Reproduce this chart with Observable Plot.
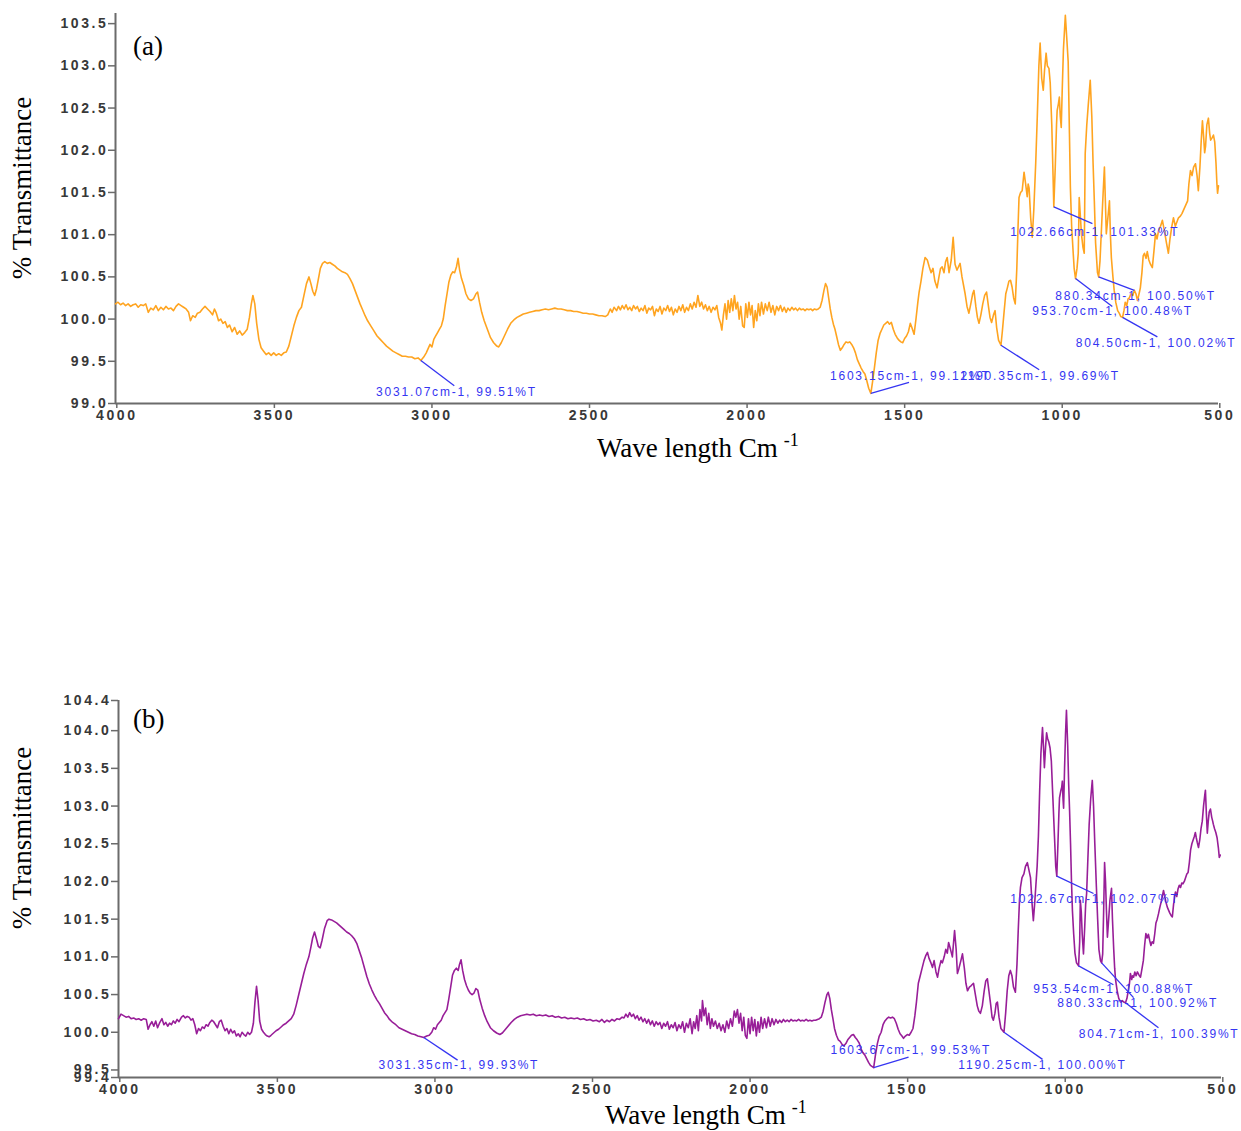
<!DOCTYPE html>
<html>
<head>
<meta charset="utf-8">
<script src="https://cdn.jsdelivr.net/npm/d3@7"></script>
<script src="https://cdn.jsdelivr.net/npm/@observablehq/plot@0.6"></script>
<style>
  html, body { margin: 0; padding: 0; background: #fff; }
  #figure { position: relative; width: 1241px; height: 1131px; overflow: hidden; }
  .panel { position: absolute; left: 0; }
  .panel svg { overflow: visible; }
  .panel g[aria-label="x-axis tick label"] text,
  .panel g[aria-label="y-axis tick label"] text { letter-spacing: 2.6px; font-weight: bold; fill: #383838; }
  .ytitle, .xtitle, .tag {
    position: absolute; font-family: "Liberation Serif", "Times New Roman", serif;
    color: #000; white-space: nowrap; line-height: 1;
  }
  .ytitle { font-size: 27px; transform: translate(-50%, -50%) rotate(-90deg); }
  .xtitle { font-size: 27px; }
  .xtitle sup { font-size: 18px; position: relative; top: -4px; margin-left: 6px; vertical-align: top; }
  .tag { font-size: 27px; }
</style>
</head>
<body>
<div id="figure"></div>
<script>
// FTIR spectra: wavenumber (cm-1) vs % transmittance
const xTicks = [4000, 3500, 3000, 2500, 2000, 1500, 1000, 500];
const yTicksA = [99.0, 99.5, 100.0, 100.5, 101.0, 101.5, 102.0, 102.5, 103.0, 103.5];
const yTicksB = [99.4, 99.5, 100.0, 100.5, 101.0, 101.5, 102.0, 102.5, 103.0, 103.5, 104.0, 104.4];

// Sample (a) spectrum, [wavenumber, %T]
const spectrumA = [
[4000,100.18],[3992,100.2],[3984,100.17],[3976,100.19],[3968,100.16],[3960,100.18],[3952,100.15],[3944,100.17],[3936,100.18],[3928,100.14],[3920,100.17],[3912,100.16],[3904,100.18],[3896,100.08],[3888,100.13],[3880,100.11],[3872,100.16],[3864,100.1],[3856,100.14],[3848,100.11],[3840,100.15],[3832,100.12],[3824,100.13],[3816,100.1],[3808,100.15],[3800,100.18],[3792,100.16],[3784,100.14],[3776,100.12],[3768,100.08],[3762,99.98],[3755,100.04],[3747,100.02],[3740,100.07],[3732,100.08],[3724,100.12],[3716,100.15],[3708,100.12],[3700,100.09],[3692,100.05],[3686,100.12],[3680,100.07],[3673,99.98],[3666,100.0],[3659,99.95],[3652,99.97],[3645,99.9],[3638,99.93],[3630,99.85],[3622,99.9],[3614,99.82],[3606,99.86],[3598,99.81],[3590,99.84],[3582,99.88],[3575,100.02],[3569,100.18],[3564,100.28],[3558,100.18],[3552,99.95],[3545,99.76],[3538,99.66],[3530,99.62],[3522,99.58],[3514,99.6],[3506,99.57],[3498,99.6],[3490,99.57],[3482,99.59],[3474,99.57],[3466,99.6],[3458,99.61],[3450,99.68],[3442,99.8],[3434,99.92],[3426,100.02],[3418,100.1],[3410,100.14],[3402,100.28],[3394,100.42],[3386,100.5],[3380,100.42],[3374,100.33],[3368,100.28],[3362,100.36],[3356,100.48],[3350,100.6],[3343,100.66],[3336,100.68],[3328,100.66],[3320,100.67],[3312,100.65],[3304,100.63],[3296,100.6],[3288,100.58],[3280,100.56],[3272,100.55],[3264,100.53],[3256,100.48],[3248,100.42],[3240,100.34],[3232,100.26],[3224,100.18],[3216,100.11],[3208,100.04],[3200,99.98],[3190,99.92],[3180,99.86],[3170,99.8],[3160,99.76],[3150,99.72],[3140,99.68],[3130,99.65],[3120,99.62],[3110,99.6],[3100,99.58],[3090,99.56],[3080,99.56],[3070,99.55],[3060,99.55],[3050,99.53],[3040,99.54],[3031.07,99.51],[3022,99.55],[3014,99.6],[3008,99.65],[3002,99.7],[2996,99.67],[2990,99.76],[2984,99.8],[2978,99.84],[2972,99.88],[2966,99.92],[2960,100.0],[2954,100.16],[2948,100.3],[2942,100.44],[2936,100.52],[2930,100.56],[2924,100.55],[2918,100.62],[2913,100.72],[2908,100.58],[2902,100.48],[2895,100.4],[2888,100.3],[2880,100.24],[2872,100.22],[2864,100.24],[2856,100.3],[2851,100.32],[2845,100.2],[2838,100.08],[2830,99.98],[2820,99.88],[2810,99.78],[2800,99.72],[2790,99.68],[2784,99.67],[2776,99.72],[2766,99.8],[2756,99.88],[2746,99.95],[2736,99.99],[2726,100.02],[2716,100.04],[2706,100.06],[2696,100.07],[2686,100.08],[2676,100.09],[2666,100.1],[2656,100.1],[2646,100.11],[2636,100.12],[2626,100.11],[2616,100.12],[2606,100.13],[2596,100.12],[2586,100.12],[2576,100.11],[2566,100.1],[2556,100.1],[2546,100.09],[2536,100.09],[2526,100.08],[2516,100.07],[2506,100.07],[2496,100.06],[2486,100.06],[2476,100.05],[2466,100.04],[2456,100.04],[2446,100.03],[2438,100.05],[2430,100.12],[2424,100.08],[2418,100.14],[2410,100.1],
[2404,100.15],[2398,100.11],[2392,100.16],[2386,100.12],[2380,100.17],[2374,100.11],[2368,100.14],[2362,100.1],[2356,100.16],[2350,100.12],[2344,100.15],[2338,100.09],[2332,100.13],[2326,100.1],[2320,100.16],[2314,100.07],[2308,100.13],[2302,100.11],[2296,100.15],[2290,100.04],[2284,100.12],[2278,100.09],[2272,100.15],[2266,100.06],[2260,100.13],[2254,100.1],[2248,100.16],[2242,100.09],[2236,100.14],[2230,100.05],[2224,100.12],[2218,100.08],[2212,100.15],[2206,100.1],[2200,100.17],[2194,100.08],[2188,100.14],[2182,100.1],[2176,100.18],[2170,100.12],[2164,100.2],[2158,100.14],[2152,100.28],[2146,100.15],[2140,100.2],[2134,100.12],[2128,100.17],[2122,100.1],[2116,100.15],[2110,100.08],[2104,100.14],[2098,100.11],[2092,100.16],[2086,100.02],[2080,99.95],[2076,99.87],[2071,100.05],[2066,100.18],[2061,100.0],[2056,100.22],[2051,100.08],[2046,100.24],[2041,100.1],[2036,100.28],[2031,100.12],[2026,100.2],[2021,100.0],[2016,100.15],[2010,99.92],[2005,99.9],[2000,100.18],[1995,100.02],[1990,100.2],[1985,100.05],[1980,100.16],[1975,99.9],[1970,100.1],[1965,99.98],[1960,100.18],[1955,100.04],[1950,100.2],[1944,100.06],[1938,100.18],[1932,100.1],[1926,100.2],[1920,100.08],[1914,100.16],[1908,100.05],[1902,100.15],[1896,100.1],[1890,100.16],[1884,100.09],[1878,100.14],[1872,100.08],[1866,100.13],[1860,100.1],[1854,100.14],[1848,100.11],[1842,100.13],[1836,100.1],[1830,100.13],[1824,100.11],[1818,100.12],[1812,100.1],[1806,100.12],[1800,100.11],[1794,100.12],[1788,100.1],[1782,100.12],[1776,100.11],[1770,100.12],[1764,100.14],
[1758,100.22],[1752,100.34],[1747,100.42],[1742,100.38],[1737,100.25],[1732,100.12],[1727,100.02],[1722,99.94],[1717,99.88],[1712,99.8],[1706,99.7],[1700,99.63],[1694,99.66],[1688,99.7],[1682,99.73],[1676,99.72],[1670,99.73],[1664,99.7],[1658,99.66],[1652,99.6],[1646,99.52],[1640,99.47],[1634,99.42],[1628,99.38],[1622,99.35],[1616,99.27],[1610,99.18],[1603.15,99.12],[1598,99.25],[1592,99.42],[1586,99.6],[1580,99.75],[1574,99.83],[1568,99.88],[1562,99.93],[1556,99.95],[1550,99.97],[1544,99.94],[1538,99.96],[1532,99.88],[1526,99.82],[1520,99.78],[1514,99.75],[1508,99.73],[1502,99.72],[1496,99.77],[1490,99.8],[1484,99.85],[1478,99.95],[1473,99.9],[1466,99.82],[1460,100.0],[1454,100.2],[1450,100.32],[1444,100.45],[1438,100.6],[1431,100.73],[1424,100.7],[1418,100.62],[1412,100.55],[1406,100.6],[1400,100.45],[1393,100.37],[1387,100.5],[1382,100.6],[1377,100.62],[1371,100.55],[1366,100.68],[1361,100.73],[1355,100.55],[1348,100.7],[1342,100.97],[1336,100.65],[1330,100.58],[1325,100.62],[1320,100.66],[1314,100.5],[1308,100.38],[1304,100.3],[1298,100.15],[1292,100.07],[1286,100.18],[1280,100.3],[1276,100.34],[1270,100.15],[1265,100.02],[1260,99.95],[1254,100.05],[1248,100.18],[1242,100.28],[1236,100.32],[1230,100.15],[1225,100.02],[1220,99.96],[1214,100.05],[1209,100.1],[1204,99.9],[1198,99.75],[1190.35,99.69],[1186,99.85],[1180,100.1],[1175,100.3],[1170,100.37],[1165,100.45],[1160,100.46],[1155,100.38],[1150,100.25],[1145,100.18],[1140,100.6],[1136,101.1],[1133,101.44],[1128,101.5],[1123,101.52],[1117,101.74],[1112,101.6],[1107,101.45],[1104,101.6],[1101,101.55],[1096,101.2],[1091,100.97],[1086,101.3],[1080,101.85],[1075,102.4],[1070,103.0],[1066,103.27],[1061,102.85],[1056,102.71],[1052,102.95],[1047,103.15],[1043,103.0],[1038,102.97],[1034,102.8],[1029,102.3],[1025,101.7],[1022.66,101.33],[1018,101.8],[1014,102.3],[1012,102.47],[1008,102.55],[1005,102.63],[1002,102.4],[999,102.27],[996,102.7],[992,103.2],[986,103.6],[981,103.3],[977,103.05],[973,102.2],[970,101.56],[966,101.1],[961,100.78],[958,100.6],[953.7,100.48],[949,100.6],[945,100.78],[942,101.44],[938,101.2],[935,101.01],[930,100.85],[926,100.78],[923,101.96],[918,102.3],[913,102.55],[907,102.83],[902,102.4],[898,101.85],[894,101.4],[890,100.9],[884,100.55],[880.34,100.5],[876,100.69],[871,101.1],[866,101.5],[862,101.8],[859,101.4],[856,101.01],[851,101.2],[846,101.4],[843,101.0],[840,100.73],[835,100.5],[831,100.34],[826,100.2],[820,100.1],[815,100.07],[810,100.03],[804.5,100.02],[800,100.1],[796,100.2],[791,100.16],[787,100.24],[783,100.25],[778,100.3],[772,100.28],[767,100.34],[762,100.3],[757,100.22],[752,100.3],[748,100.37],[743,100.55],[739,100.75],[735,100.78],[730,100.72],[726,100.8],[721,100.7],[716,100.65],[710,100.61],[705,100.8],[700,101.01],[695,100.95],[690,101.05],[684,101.1],[678,101.17],[672,101.05],[665,100.9],[659,100.78],[654,100.95],[648,101.1],[643,101.2],[637,101.1],[632,101.15],[627,101.2],[621,101.22],[616,101.25],[610,101.3],[604,101.35],[598,101.4],[594,101.6],[589,101.76],[584,101.7],[579,101.8],[573,101.84],[568,101.7],[564,101.52],[559,101.8],[555,102.1],[551,102.35],[547,102.15],[544,101.97],[541,102.05],[537,102.3],[532,102.38],[528,102.2],[525,102.12],[520,102.15],[516,102.18],[512,102.1],[508,101.85],[505,101.6],[503,101.49],[500,101.58]
];

// Sample (b) spectrum, [wavenumber, %T]
const spectrumB = [
[4000,100.18],[3992,100.24],[3984,100.22],[3976,100.2],[3968,100.21],[3960,100.18],[3952,100.19],[3944,100.17],[3936,100.18],[3928,100.16],[3920,100.18],[3912,100.17],[3906,100.04],[3900,100.1],[3894,100.14],[3888,100.08],[3882,100.15],[3876,100.06],[3870,100.12],[3862,100.18],[3856,100.1],[3850,100.13],[3844,100.08],[3838,100.12],[3832,100.1],[3826,100.15],[3820,100.12],[3814,100.17],[3808,100.14],[3800,100.2],[3794,100.22],[3788,100.19],[3782,100.21],[3776,100.2],[3770,100.16],[3764,100.18],[3758,100.1],[3752,99.98],[3746,100.05],[3740,100.02],[3734,100.07],[3728,100.05],[3722,100.1],[3716,100.08],[3710,100.13],[3704,100.16],[3698,100.14],[3692,100.1],[3686,100.06],[3680,100.14],[3674,100.16],[3668,100.08],[3662,100.02],[3656,100.05],[3650,99.98],[3644,100.04],[3638,99.99],[3632,100.02],[3626,99.95],[3620,99.98],[3614,99.94],[3608,100.0],[3602,99.97],[3596,99.95],[3590,100.0],[3584,99.97],[3578,100.0],[3572,100.12],[3567,100.4],[3562,100.61],[3557,100.42],[3552,100.15],[3546,100.04],[3540,100.0],[3534,99.97],[3528,99.95],[3522,99.94],[3516,99.96],[3508,99.99],[3500,100.02],[3492,100.04],[3484,100.07],[3476,100.1],[3468,100.12],[3460,100.15],[3452,100.18],[3444,100.24],[3436,100.36],[3428,100.5],[3420,100.64],[3412,100.78],[3404,100.9],[3396,101.0],[3390,101.12],[3384,101.25],[3378,101.33],[3372,101.24],[3366,101.14],[3360,101.12],[3354,101.22],[3346,101.38],[3338,101.48],[3332,101.5],[3324,101.49],[3316,101.47],[3308,101.45],[3300,101.42],[3292,101.39],[3284,101.36],[3276,101.33],[3268,101.31],[3260,101.28],[3252,101.24],[3244,101.18],[3236,101.08],[3228,100.98],[3220,100.86],[3212,100.74],[3204,100.64],[3196,100.56],[3188,100.49],[3180,100.43],[3172,100.38],[3164,100.32],[3156,100.26],[3148,100.22],[3140,100.17],[3130,100.13],[3120,100.1],[3110,100.06],[3100,100.04],[3090,100.02],[3080,100.0],[3070,99.98],[3060,99.97],[3050,99.95],[3040,99.94],[3031.35,99.93],[3022,99.95],[3014,99.96],[3006,100.0],[3000,100.06],[2994,100.04],[2988,100.1],[2982,100.13],[2976,100.16],[2970,100.22],[2964,100.26],[2958,100.3],[2952,100.44],[2946,100.6],[2940,100.76],[2934,100.82],[2928,100.85],[2922,100.82],[2918,100.9],[2913,100.96],[2908,100.82],[2902,100.7],[2896,100.62],[2890,100.56],[2884,100.52],[2878,100.5],[2872,100.52],[2866,100.58],[2860,100.56],[2854,100.44],[2846,100.32],[2838,100.22],[2830,100.14],[2820,100.06],[2810,100.02],[2800,99.99],[2790,99.97],[2782,99.99],[2774,100.03],[2764,100.08],[2754,100.13],[2744,100.17],[2734,100.2],[2724,100.22],[2714,100.23],[2704,100.24],[2694,100.23],[2684,100.24],[2674,100.22],[2664,100.23],[2654,100.22],[2644,100.23],[2634,100.21],[2624,100.22],[2614,100.2],[2604,100.21],[2594,100.19],[2584,100.2],[2574,100.18],[2564,100.19],[2554,100.18],[2544,100.19],[2534,100.17],[2524,100.18],[2514,100.16],[2504,100.17],[2494,100.15],[2484,100.16],[2474,100.14],[2466,100.17],[2458,100.13],[2450,100.16],[2442,100.14],[2434,100.17],[2426,100.15],[2418,100.18],[2410,100.17],[2402,100.2],[2396,100.19],[2390,100.24],[2384,100.2],[2378,100.26],[2372,100.21],[2366,100.24],[2360,100.18],[2354,100.22],[2348,100.16],[2342,100.2],[2336,100.14],[2330,100.18],[2324,100.12],[2318,100.17],[2312,100.1],[2306,100.15],[2300,100.08],[2294,100.14],[2288,100.1],[2282,100.13],[2276,100.05],[2270,100.12],[2264,100.08],[2258,100.14],[2252,100.04],[2246,100.1],[2240,100.06],[2234,100.13],[2228,100.02],[2222,100.1],[2216,100.05],[2210,100.14],[2204,100.0],[2198,100.12],[2192,100.06],[2186,100.18],[2180,99.98],[2175,100.14],[2170,100.05],[2165,100.22],[2160,100.02],[2155,100.3],[2150,100.15],[2147,100.42],[2142,100.22],[2137,100.32],[2132,100.1],[2127,100.25],[2122,100.05],[2117,100.18],[2112,100.08],[2106,100.15],[2100,100.05],[2094,100.12],[2088,100.02],[2082,100.1],[2076,100.0],[2070,100.15],[2064,100.05],[2058,100.18],[2052,100.08],[2046,100.28],[2041,100.2],[2036,100.3],[2031,100.12],[2026,100.25],[2021,100.02],[2016,100.2],[2011,99.96],[2006,99.92],[2001,100.18],[1996,99.98],[1991,100.2],[1986,100.02],[1981,100.17],[1976,99.95],[1971,100.14],[1966,100.0],[1961,100.2],[1956,100.05],[1950,100.18],[1944,100.06],[1938,100.2],[1932,100.08],[1926,100.18],[1920,100.1],[1914,100.17],[1908,100.12],[1902,100.16],[1896,100.13],[1890,100.17],[1884,100.14],[1878,100.16],[1872,100.14],[1866,100.17],[1860,100.15],[1854,100.16],[1848,100.15],[1842,100.17],[1836,100.15],[1830,100.16],[1824,100.15],[1818,100.17],[1812,100.15],[1806,100.16],[1800,100.15],[1794,100.16],[1788,100.16],[1782,100.17],[1776,100.18],[1770,100.2],[1764,100.28],[1758,100.4],[1752,100.5],[1748,100.53],[1743,100.45],[1738,100.3],[1733,100.18],[1728,100.05],[1722,99.96],[1716,99.9],[1710,99.88],[1704,99.84],[1698,99.82],[1692,99.85],[1686,99.9],[1680,99.93],[1674,99.96],[1668,99.97],[1662,99.93],[1656,99.9],[1650,99.86],[1644,99.78],[1638,99.73],[1632,99.7],[1626,99.65],[1620,99.6],[1614,99.56],[1603.67,99.53],[1598,99.7],[1592,99.85],[1586,99.95],[1580,100.0],[1574,100.1],[1568,100.15],[1562,100.18],[1556,100.2],[1550,100.19],[1544,100.2],[1538,100.18],[1532,100.12],[1526,100.04],[1520,99.98],[1514,99.95],[1509,99.92],[1503,99.95],[1497,99.97],[1491,99.96],[1485,100.0],[1479,100.05],[1473,100.22],[1468,100.4],[1462,100.65],[1456,100.75],[1450,100.85],[1444,100.95],[1438,101.02],[1433,101.06],[1428,100.98],[1422,100.92],[1417,100.86],[1412,100.95],[1406,100.8],[1401,100.73],[1396,100.85],[1390,100.95],[1386,100.92],[1380,101.0],[1375,101.1],[1370,101.05],[1366,101.19],[1360,101.1],[1354,101.0],[1350,101.2],[1347,101.35],[1342,101.1],[1338,100.78],[1333,100.85],[1327,100.95],[1322,101.04],[1316,100.85],[1311,100.65],[1306,100.55],[1300,100.6],[1294,100.62],[1287,100.65],[1281,100.5],[1275,100.35],[1270,100.28],[1265,100.25],[1259,100.35],[1253,100.55],[1248,100.68],[1243,100.71],[1238,100.55],[1232,100.35],[1228,100.2],[1224,100.16],[1219,100.25],[1215,100.38],[1211,100.4],[1206,100.2],[1200,100.05],[1190.25,100.0],[1185,100.25],[1180,100.55],[1175,100.75],[1170,100.82],[1165,100.75],[1160,100.6],[1154,100.53],[1149,100.9],[1145,101.35],[1141,101.75],[1138,101.92],[1133,102.05],[1127,102.1],[1122,102.2],[1116,102.25],[1111,102.15],[1106,102.05],[1101,101.7],[1097,101.48],[1093,101.7],[1089,101.95],[1085,102.2],[1081,102.6],[1077,103.2],[1073,103.7],[1068,104.04],[1065,103.8],[1062,103.51],[1058,103.8],[1055,103.97],[1052,103.9],[1048,103.85],[1044,103.77],[1040,103.6],[1035,103.1],[1030,102.6],[1026,102.2],[1022.67,102.07],[1019,102.5],[1016,102.9],[1014,103.11],[1010,103.2],[1007,103.25],[1005,103.33],[1003,103.1],[1001,102.97],[998,103.5],[995,103.95],[992,104.27],[988,103.8],[985,103.3],[982,102.93],[979,102.5],[976,102.0],[973,101.61],[969,101.3],[965,101.05],[960,100.92],[953.54,100.88],[950,101.2],[948,101.75],[945,101.6],[942,101.3],[938,101.04],[934,101.4],[931,101.7],[928,101.84],[924,102.3],[920,102.75],[915,103.1],[910,103.34],[906,103.0],[902,102.5],[897,101.93],[893,101.5],[889,101.1],[884,100.95],[880.33,100.92],[877,101.04],[874,101.6],[871,102.25],[868,102.0],[865,101.6],[862,101.26],[858,101.5],[854,101.75],[849,101.91],[846,101.5],[842,101.1],[839,100.85],[836,100.69],[831,100.55],[826,100.45],[820,100.4],[815,100.42],[810,100.4],[804.71,100.39],[800,100.45],[796,100.55],[792,100.65],[789,100.78],[785,100.7],[782,100.75],[779,100.73],[775,100.8],[771,100.75],[767,100.8],[762,100.76],[757,100.73],[752,100.85],[748,100.95],[744,101.15],[740,101.31],[736,101.25],[732,101.3],[728,101.22],[724,101.15],[720,101.2],[716,101.18],[712,101.3],[708,101.45],[704,101.5],[700,101.57],[696,101.65],[692,101.72],[688,101.8],[684,101.88],[680,101.8],[676,101.72],[672,101.66],[668,101.62],[664,101.58],[660,101.55],[656,101.53],[652,101.7],[648,101.82],[646,101.86],[642,101.8],[638,101.9],[634,101.95],[630,101.92],[626,101.98],[622,101.97],[618,102.0],[614,102.05],[610,102.1],[606,102.12],[602,102.25],[598,102.42],[594,102.5],[590,102.55],[586,102.6],[583,102.65],[580,102.58],[577,102.52],[573,102.45],[569,102.55],[565,102.7],[561,102.8],[557,103.0],[553,103.15],[551,103.21],[548,102.9],[545,102.64],[542,102.8],[539,102.92],[535,102.96],[531,102.85],[528,102.8],[526,102.76],[522,102.7],[518,102.65],[514,102.58],[510,102.45],[507,102.32],[504,102.35]
];

// Picked peaks: [wavenumber, %T]
const peaksA = [[3031.07, 99.51], [1603.15, 99.12], [1190.35, 99.69], [1022.66, 101.33], [880.34, 100.50], [953.70, 100.48], [804.50, 100.02]];
const peaksB = [[3031.35, 99.93], [1603.67, 99.53], [1190.25, 100.00], [1022.67, 102.07], [953.54, 100.88], [880.33, 100.92], [804.71, 100.39]];
// Where each leader line ends and where its label starts, in [wavenumber, %T]
const leaderEndA = [[2925, 99.21], [1482, 99.25], [1069, 99.40], [900, 101.13], [767, 100.34], [837, 100.15], [694, 99.79]];
const labelAtA = [[3173, 99.14], [1733, 99.32], [1320, 99.32], [1161, 101.03], [1018, 100.27], [1091, 100.09], [953, 99.71]];
const leaderEndB = [[2924, 99.63], [1493, 99.67], [1068, 99.64], [906, 101.84], [843, 100.63], [779, 100.46], [700, 100.06]];
const labelAtB = [[3175, 99.57], [1741, 99.76], [1335, 99.56], [1170, 101.76], [1097, 100.57], [1021, 100.38], [953, 99.97]];

const AXIS = "#6b6b6b";
const CALLOUT = "#3535f2";

function panel({spectrum, peaks, leaderEnd, labelAt, yDomain, yTicks, color, top, height, margins}) {
  const callouts = peaks.map(([wn, t], i) => ({
    wn, t,
    x2: leaderEnd[i][0], y2: leaderEnd[i][1],
    lx: labelAt[i][0], ly: labelAt[i][1],
    text: `${wn.toFixed(2)}cm-1, ${t.toFixed(2)}%T`
  }));
  const chart = Plot.plot({
    width: 1241,
    height,
    marginLeft: margins[0], marginRight: margins[1], marginTop: margins[2], marginBottom: margins[3],
    style: {fontFamily: "'Liberation Sans', Arial, sans-serif", fontSize: "14px", background: "transparent", overflow: "visible"},
    x: {domain: [4000, 500]},
    y: {domain: yDomain},
    marks: [
      Plot.axisX({ticks: xTicks, tickFormat: d => String(d), tickSize: 5, tickPadding: 2, stroke: AXIS, strokeWidth: 1.5, fontSize: 14, fontWeight: "bold", label: null, dx: 1.3}),
      Plot.axisY({ticks: yTicks, tickFormat: d => d.toFixed(1), tickSize: 7, tickPadding: 0, stroke: AXIS, strokeWidth: 1.5, fontSize: 14, fontWeight: "bold", label: null}),
      Plot.ruleX([4000], {stroke: AXIS, strokeWidth: 2}),
      Plot.ruleY([yDomain[0]], {stroke: AXIS, strokeWidth: 2}),
      Plot.line(spectrum, {x: d => d[0], y: d => d[1], stroke: color, strokeWidth: 1.6, strokeLinejoin: "round"}),
      Plot.link(callouts, {x1: "wn", y1: "t", x2: "x2", y2: "y2", stroke: CALLOUT, strokeWidth: 1.3}),
      Plot.text(callouts, {x: "lx", y: "ly", text: "text", textAnchor: "start", fill: CALLOUT, fontSize: 12})
    ]
  });
  // widen the callout lettering
  d3.select(chart).selectAll(`g[fill="${CALLOUT}"] text`).style("letter-spacing", "1.8px");
  const wrap = document.createElement("div");
  wrap.className = "panel";
  wrap.style.top = top + "px";
  wrap.appendChild(chart);
  return wrap;
}

const fig = document.getElementById("figure");

fig.appendChild(panel({
  spectrum: spectrumA, peaks: peaksA, leaderEnd: leaderEndA, labelAt: labelAtA,
  yDomain: [99, 103.62], yTicks: yTicksA, color: "#ffa420",
  top: 0, height: 470, margins: [115, 23, 13, 67]
}));

fig.appendChild(panel({
  spectrum: spectrumB, peaks: peaksB, leaderEnd: leaderEndB, labelAt: labelAtB,
  yDomain: [99.4, 104.4], yTicks: yTicksB, color: "#981e98",
  top: 660, height: 471, margins: [118, 20, 40, 54]
}));

function addText(cls, html, left, top) {
  const el = document.createElement("div");
  el.className = cls;
  el.innerHTML = html;
  el.style.left = left + "px";
  el.style.top = top + "px";
  fig.appendChild(el);
}

addText("ytitle", "% Transmittance", 22, 188);
addText("ytitle", "% Transmittance", 22, 838);
addText("xtitle", "Wave length Cm<sup>-1</sup>", 597, 435);
addText("xtitle", "Wave length Cm<sup>-1</sup>", 605, 1102);
addText("tag", "(a)", 133, 33);
addText("tag", "(b)", 133, 706);
</script>
</body>
</html>
